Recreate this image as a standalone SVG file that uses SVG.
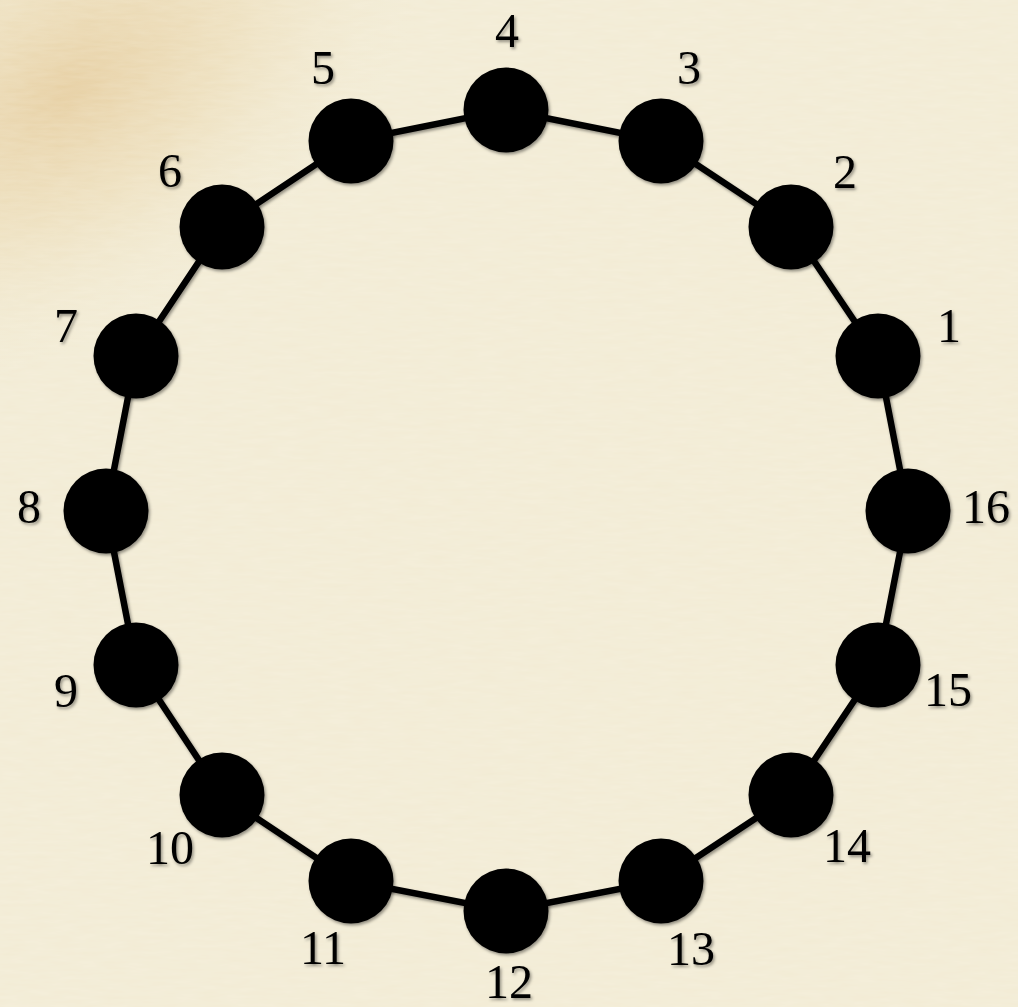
<svg xmlns="http://www.w3.org/2000/svg" width="1018" height="1007" viewBox="0 0 1018 1007">
<defs>
<style>
.edge{stroke:#000;stroke-width:6.5;fill:none}
.node circle{fill:#000}
.lbl{font-family:"Liberation Serif","Times New Roman",serif;font-size:48px;fill:#000;text-anchor:middle}
</style>
<radialGradient id="corner" gradientUnits="userSpaceOnUse" cx="70" cy="90" r="320" gradientTransform="rotate(-35 70 90) scale(1.3 0.75) translate(-16 30)">
<stop offset="0" stop-color="#e4c998" stop-opacity="0.85"/>
<stop offset="0.45" stop-color="#ead7ae" stop-opacity="0.55"/>
<stop offset="1" stop-color="#f2ebd4" stop-opacity="0"/>
</radialGradient>
<filter id="tex" x="0" y="0" width="100%" height="100%">
<feTurbulence type="fractalNoise" baseFrequency="0.04 0.25" numOctaves="3" seed="3" result="n"/>
<feColorMatrix in="n" type="matrix" values="0 0 0 0 1  0 0 0 0 1  0 0 0 0 0.95  0 0 0 0.18 0"/>
</filter>
<filter id="sh" x="-20%" y="-20%" width="150%" height="150%">
<feDropShadow dx="1.5" dy="2" stdDeviation="1.8" flood-color="#000" flood-opacity="0.4"/>
</filter>
</defs>
<rect width="1018" height="1007" fill="#f2ebd4"/>
<rect width="1018" height="1007" fill="url(#corner)"/>
<rect width="1018" height="1007" filter="url(#tex)"/>
<g id="connectors" filter="url(#sh)">
<polygon class="edge" points="878,356 791,227 661,141 506,110 351,141 222,227 136,356 106,511 136,665 222,795 351,881 506,911 661,881 791,795 878,665 908,511"/>
</g>
<g filter="url(#sh)">
<g id="n1" class="node"><circle cx="878" cy="356" r="42.5"/><text class="lbl" x="949" y="342">1</text></g>
<g id="n2" class="node"><circle cx="791" cy="227" r="42.5"/><text class="lbl" x="845" y="188">2</text></g>
<g id="n3" class="node"><circle cx="661" cy="141" r="42.5"/><text class="lbl" x="689" y="84">3</text></g>
<g id="n4" class="node"><circle cx="506" cy="110" r="42.5"/><text class="lbl" x="507" y="47">4</text></g>
<g id="n5" class="node"><circle cx="351" cy="141" r="42.5"/><text class="lbl" x="323" y="84">5</text></g>
<g id="n6" class="node"><circle cx="222" cy="227" r="42.5"/><text class="lbl" x="170" y="187">6</text></g>
<g id="n7" class="node"><circle cx="136" cy="356" r="42.5"/><text class="lbl" x="66" y="342">7</text></g>
<g id="n8" class="node"><circle cx="106" cy="511" r="42.5"/><text class="lbl" x="29" y="523">8</text></g>
<g id="n9" class="node"><circle cx="136" cy="665" r="42.5"/><text class="lbl" x="66" y="707">9</text></g>
<g id="n10" class="node"><circle cx="222" cy="795" r="42.5"/><text class="lbl" x="170" y="864">10</text></g>
<g id="n11" class="node"><circle cx="351" cy="881" r="42.5"/><text class="lbl" x="323" y="964">11</text></g>
<g id="n12" class="node"><circle cx="506" cy="911" r="42.5"/><text class="lbl" x="509" y="998">12</text></g>
<g id="n13" class="node"><circle cx="661" cy="881" r="42.5"/><text class="lbl" x="691" y="965">13</text></g>
<g id="n14" class="node"><circle cx="791" cy="795" r="42.5"/><text class="lbl" x="847" y="862">14</text></g>
<g id="n15" class="node"><circle cx="878" cy="665" r="42.5"/><text class="lbl" x="948" y="706">15</text></g>
<g id="n16" class="node"><circle cx="908" cy="511" r="42.5"/><text class="lbl" x="986" y="523">16</text></g>
</g>
</svg>
